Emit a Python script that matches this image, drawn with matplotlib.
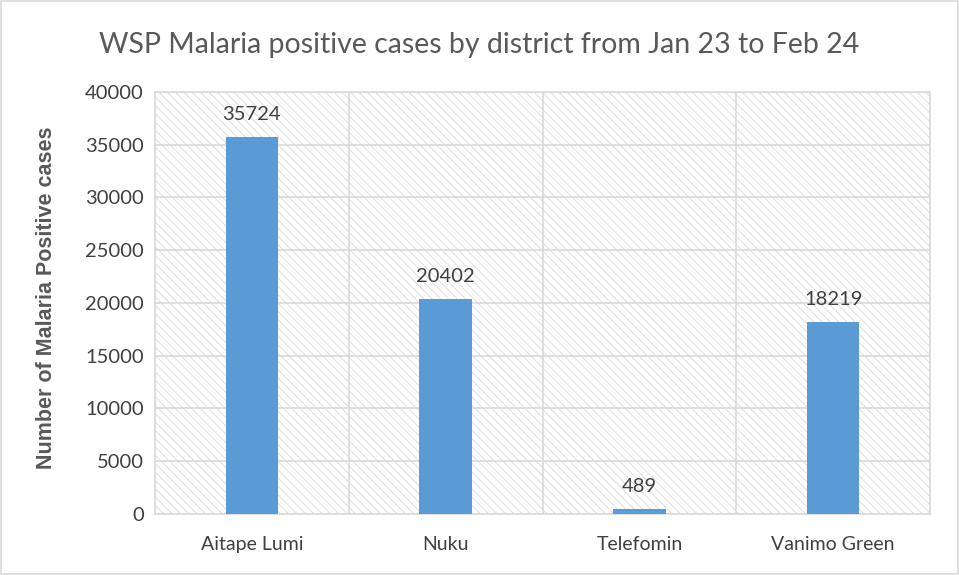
import numpy as np
import matplotlib.pyplot as plt

plt.rcParams['font.family'] = ['Lato', 'DejaVu Sans']
plt.rcParams['hatch.color'] = '#dcdcdc'
plt.rcParams['hatch.linewidth'] = 0.6

districts = ['Aitape Lumi', 'Nuku', 'Telefomin', 'Vanimo Green']
cases = [35724, 20402, 489, 18219]

grey = '#595959'
grid = '#d9d9d9'

fig = plt.figure(figsize=(9.59, 5.75), dpi=100)
ax = fig.add_axes([0.1616, 0.1061, 0.8082, 0.7339])

ax.patch.set_facecolor('white')
ax.patch.set_hatch('\\\\\\\\')
ax.patch.set_edgecolor(grid)

x = np.arange(len(districts))
bars = ax.bar(x, cases, width=0.27, color='#5b9bd5', zorder=3)
for b, v in zip(bars, cases):
    ax.text(b.get_x() + b.get_width() / 2, v + 1300, str(v), ha='center', va='bottom',
            fontsize=14.5, color='#404040', zorder=4)

ax.set_xlim(-0.5, len(districts) - 0.5)
ax.set_ylim(0, 40000)
ax.set_yticks(np.arange(0, 40001, 5000))
ax.set_xticks(x)
ax.set_xticklabels(districts)
ax.set_xticks(np.arange(-0.5, len(districts), 1), minor=True)
ax.grid(True, axis='y', which='major', color=grid, lw=1.2, zorder=1)
ax.grid(True, axis='x', which='minor', color=grid, lw=1.2, zorder=1)
ax.tick_params(axis='both', which='both', length=0, labelsize=14.5, labelcolor='#404040')
ax.tick_params(axis='x', labelsize=14, pad=16)
ax.tick_params(axis='y', pad=8)
for s in ax.spines.values():
    s.set_color(grid)
    s.set_linewidth(1.2)

ax.set_ylabel('Number of Malaria Positive cases', fontsize=15.5, fontweight='bold',
              family=['Liberation Sans', 'DejaVu Sans'], color=grey)
ax.yaxis.set_label_coords(-0.126, 0.513)
fig.text(0.5, 1 - 45 / 575, 'WSP Malaria positive cases by district from Jan 23 to Feb 24',
         ha='center', va='center', fontsize=20.5, color=grey)

border = plt.Rectangle((0.001, 0.001), 0.998, 0.998, transform=fig.transFigure, fill=False,
                       edgecolor=grid, lw=1.2)
fig.add_artist(border)

fig.savefig('out.png', dpi=100)
